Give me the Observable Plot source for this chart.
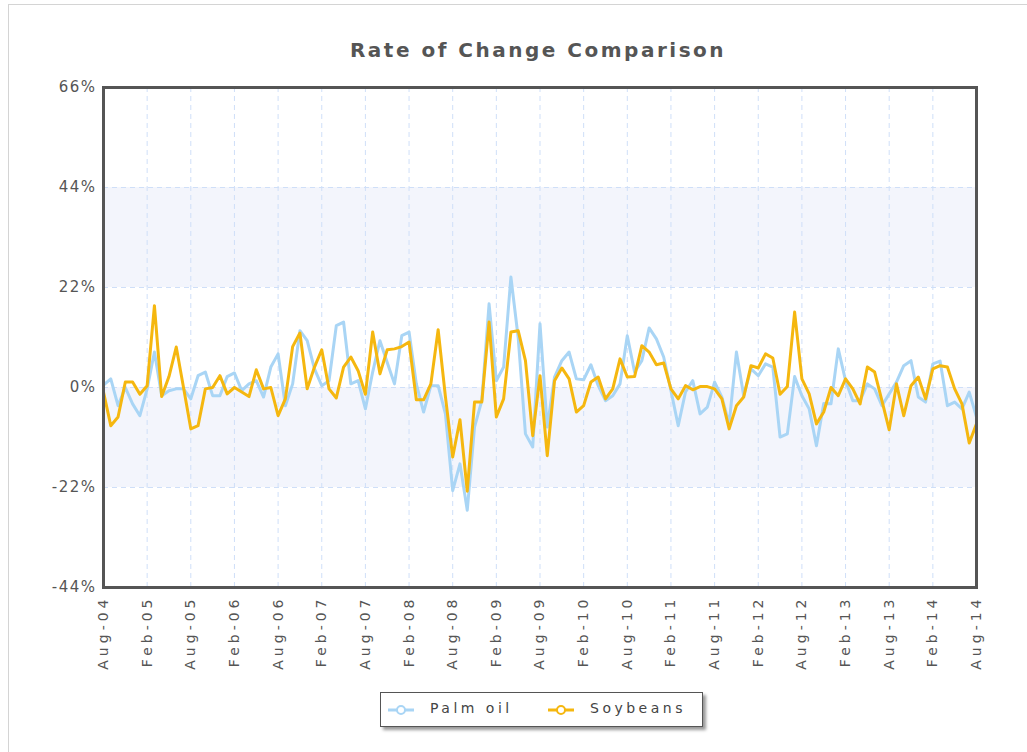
<!DOCTYPE html>
<html><head><meta charset="utf-8">
<script src="https://cdn.jsdelivr.net/npm/d3@7"></script>
<script src="https://cdn.jsdelivr.net/npm/@observablehq/plot@0.6"></script>
<style>
body{margin:0;background:#fff;font-family:"DejaVu Sans",sans-serif;}
#wrap{position:relative;width:1027px;height:752px;overflow:hidden;background:#fff;}
#border{position:absolute;left:8px;top:4px;width:1100px;height:800px;border:1px solid #d4d4d4;}
#title{position:absolute;left:0;width:1076px;top:38px;text-align:center;font-weight:bold;font-size:20px;color:#555;letter-spacing:2.5px;}
#chart{position:absolute;left:0;top:0;}
#legend{position:absolute;left:380px;top:692px;width:321px;height:33px;border:1px solid #555;background:#fff;box-shadow:3px 3px 3px #999;font-size:14px;color:#444;letter-spacing:3.5px;}
#legend .icon{position:absolute;top:11px;}
#legend .lab{position:absolute;top:7px;white-space:nowrap;}
g[aria-label="y-axis tick label"]{letter-spacing:1.5px;font-size:15px;}
</style>
</head><body>
<div id="wrap">
<div id="border"></div>
<div id="title">Rate of Change Comparison</div>
<div id="chart"></div>
<div id="legend"></div>
</div>
<script>
const seriesNames = ["Palm oil", "Soybeans"];
const seriesColors = ["#a9d5f5", "#f5b70f"];
const xTickLabels = ["Aug-04","Feb-05","Aug-05","Feb-06","Aug-06","Feb-07","Aug-07","Feb-08","Aug-08","Feb-09","Aug-09","Feb-10","Aug-10","Feb-11","Aug-11","Feb-12","Aug-12","Feb-13","Aug-13","Feb-14","Aug-14"];
const yTicks = [-44, -22, 0, 22, 44, 66];
// monthly rate of change (%), Aug-04 .. Aug-14
const palmOil = [0.5,1.9,-4,0,-3.6,-6.2,-0.3,7.8,-1.8,-0.7,-0.3,-0.3,-2.5,2.6,3.4,-1.8,-1.8,2.4,3.2,-0.7,
0.8,1.5,-2.1,4.5,7.4,-4,0.8,12.5,10.3,4.1,0.4,1.5,13.6,14.4,0.8,1.5,-4.7,3.4,10.3,5.5,
0.8,11.4,12.2,0.8,-5.4,0.4,0.4,-5.8,-22.7,-16.8,-27,-8.7,-2.9,18.4,1.5,4.5,24.3,11,-10.2,-13.1,
14,-8.7,2.3,5.9,7.8,1.9,1.7,5,0.4,-2.9,-1.8,0.8,11.4,3.4,5.9,13.1,10.7,6.7,-0.7,-8.4,
-1,1.5,-5.8,-4.3,1.2,-2.1,-8,7.8,-1.8,4.1,2.6,5.2,4.5,-10.9,-10.2,2.4,-1.8,-4.7,-12.8,-3.5,
-3.6,8.5,1.5,-2.9,-2.9,0.8,-0.3,-4,-1.4,1.2,4.8,5.9,-2.1,-3.2,5.2,5.8,-4,-3.2,-4.7,-1,-6.5];
const soybeans = [-1,-8.4,-6.5,1.2,1.2,-1.5,0.4,18,-2,2.4,8.9,0,-9.1,-8.4,-0.3,0,2.6,-1.4,0,-1,
-2,3.9,-0.3,0,-6.2,-2.5,9,12,-0.3,4.5,8.3,-0.3,-2.3,4.5,6.7,3.7,-1.5,12.2,3,8.3,
8.5,9,10,-2.7,-2.7,0.8,12.7,-2,-15.3,-7.1,-22.8,-3.2,-3.2,14.4,-6.5,-2.5,12.2,12.5,5.9,-10.6,
2.6,-15,1.5,4.3,1.9,-5.4,-4,1.2,2.3,-2.5,-0.3,6.3,2.3,2.4,9.2,7.8,5,5.4,-0.3,-2.5,
0.4,-0.5,0.2,0.2,-0.3,-2.5,-9.1,-4,-2.1,4.8,4.3,7.4,6.5,-1.5,0.2,16.6,1.9,-1.4,-8,-5.4,
0,-1.8,1.9,-0.3,-3.6,4.5,3.4,-2.9,-9.3,0.8,-6.2,0.4,2.3,-2.5,4.1,4.8,4.5,-0.3,-3.6,-12.2,-8];
const bandsLow = [22, -22];
const bandsHigh = [44, 0];

const xTicks = xTickLabels.map((d, i) => i * 6);
const nMonths = palmOil.length - 1;
const rows = [];
[palmOil, soybeans].forEach((arr, s) => arr.forEach((v, i) => rows.push({series: seriesNames[s], i, v})));
const bands = bandsLow.map((lo, k) => ({lo, hi: bandsHigh[k]}));
const gridColor = "#cfdff8";

const plot = Plot.plot({
  width: 1027, height: 680,
  marginTop: 87, marginLeft: 103, marginRight: 51, marginBottom: 93,
  style: {fontFamily: "DejaVu Sans, sans-serif", fontSize: "14px", letterSpacing: "4px", color: "#555", background: "transparent"},
  x: {type: "linear", domain: [0, nMonths], label: null},
  y: {domain: [yTicks[0], yTicks[yTicks.length - 1]], label: null},
  color: {domain: seriesNames, range: seriesColors},
  marks: [
    Plot.rect(bands, {x1: 0, x2: nMonths, y1: "lo", y2: "hi", fill: "#f3f5fc"}),
    Plot.ruleY(yTicks.slice(1, -1), {stroke: gridColor, strokeDasharray: "5,4", strokeWidth: 1}),
    Plot.ruleX(xTicks.slice(1, -1), {stroke: gridColor, strokeDasharray: "5,4", strokeWidth: 1}),
    Plot.line(rows.filter(d => d.series === seriesNames[0]), {x: "i", y: "v", stroke: seriesColors[0], strokeWidth: 3, strokeLinejoin: "round"}),
    Plot.line(rows.filter(d => d.series === seriesNames[1]), {x: "i", y: "v", stroke: seriesColors[1], strokeWidth: 3, strokeLinejoin: "round"}),
    Plot.frame({stroke: "#555", strokeWidth: 3}),
    Plot.axisY({ticks: yTicks, tickFormat: d => d + "%", tickSize: 0, tickPadding: 7, fill: "#555", label: null}),
    Plot.axisX({ticks: xTicks, tickFormat: d => xTickLabels[d / 6], tickRotate: -90, tickSize: 0, tickPadding: 8, fill: "#555", label: null})
  ]
});
document.getElementById("chart").appendChild(plot);

const legend = document.getElementById("legend");
const iconLeft = [7, 167], labelLeft = [49, 209];
seriesNames.forEach((name, k) => {
  const icon = document.createElement("span");
  icon.className = "icon";
  icon.style.left = iconLeft[k] + "px";
  icon.innerHTML = `<svg width="26" height="12" style="display:block"><line x1="0" y1="6" x2="26" y2="6" stroke="${seriesColors[k]}" stroke-width="3"/><circle cx="13" cy="6" r="4" fill="#fff" stroke="${seriesColors[k]}" stroke-width="2"/></svg>`;
  legend.appendChild(icon);
  const lab = document.createElement("span");
  lab.className = "lab";
  lab.style.left = labelLeft[k] + "px";
  lab.textContent = name;
  legend.appendChild(lab);
});
</script>
</body></html>
